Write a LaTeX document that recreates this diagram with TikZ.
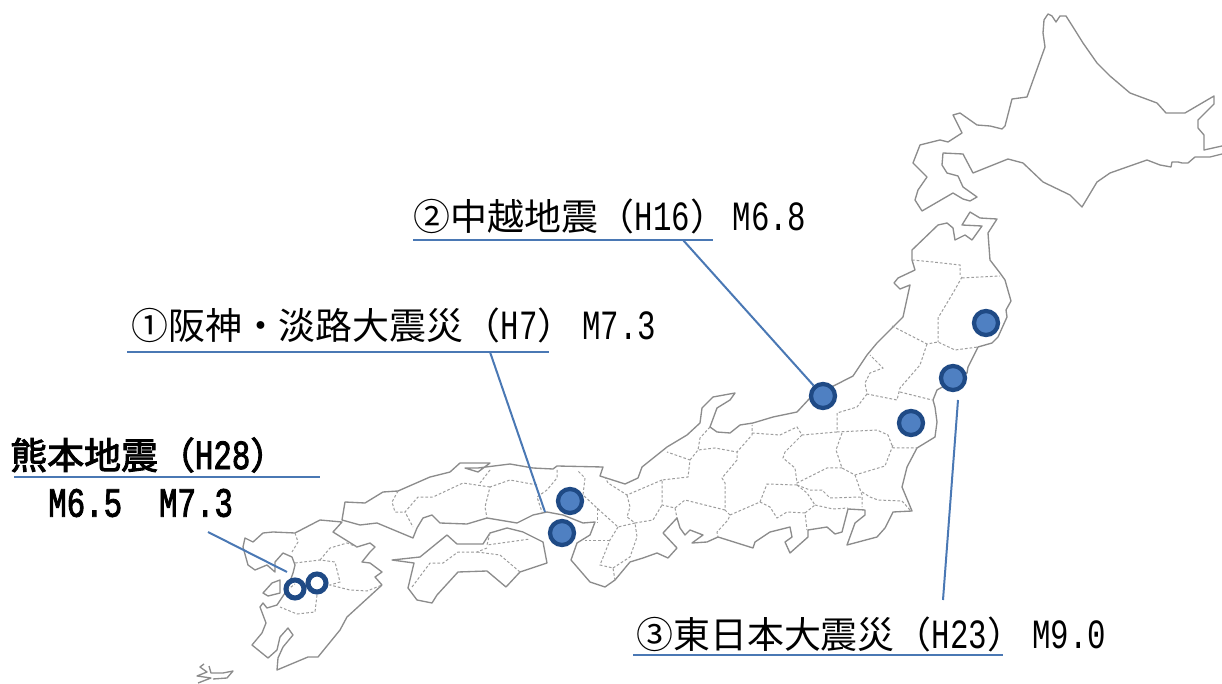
\documentclass[tikz,border=0pt]{standalone}
\usepackage{fontspec}
\setmainfont{Noto Sans CJK JP}
\newfontfamily\jpsemi[FakeBold=2.5]{Noto Sans CJK JP}
\newfontfamily\latfont[FakeStretch=0.74]{Liberation Mono}
\newfontfamily\latbold[FakeStretch=0.74,FakeBold=2]{Liberation Mono}
\newcommand{\lt}[1]{{\fontsize{31.2pt}{30pt}\latfont #1}}
\newcommand{\lb}[1]{{\fontsize{31.2pt}{30pt}\latbold #1}}
\definecolor{mapline}{HTML}{8C8C8C}
\definecolor{leader}{HTML}{4A78B4}
\definecolor{dotfill}{HTML}{4F80C2}
\definecolor{dotring}{HTML}{1F4A85}
\tikzset{
  coast/.style={draw=mapline,line width=1pt,line join=round},
  pref/.style={draw=mapline!85,line width=0.75pt,dash pattern=on 2pt off 1.5pt},
  leaderline/.style={draw=leader,line width=1.5pt},
  quake/.style={circle,draw=dotring,fill=dotfill,line width=3.2pt,minimum size=18pt,inner sep=0pt},
  quakering/.style={circle,draw=dotring,line width=3.8pt,minimum size=13.5pt,inner sep=0pt},
  label/.style={anchor=west,inner sep=0pt,font=\fontsize{27.7pt}{30pt}\selectfont,text=black}
}
\begin{document}
\begin{tikzpicture}[x=0.75pt,y=-0.75pt]
\useasboundingbox (0,0) rectangle (1222,684);
% Hokkaido
\draw[coast] (1045,47)--(1043,33)--(1044,20)--(1048,14)--(1052,16)--(1056,22)--(1060,16)--(1066,16)--(1073,27)--(1083,43)--(1097,63)--(1110,76)--(1130,93)--(1157,103)--(1166,113)--(1185,113)--(1214,96)--(1214,104)--(1198,120)--(1198,128)--(1204,135)--(1204,150)--(1222,146);
\draw[coast] (1222,154)--(1210,157)--(1195,157)--(1188,163)--(1182,163)--(1178,162)--(1172,162)--(1171,167)--(1160,165)--(1147,160)--(1127,167)--(1110,173)--(1097,182)--(1082,207)--(1070,195)--(1043,182)--(1023,163)--(1008,159)--(973,173)--(963,154)--(943,153)--(942,165)--(947,173)--(958,176)--(963,187)--(977,197)--(970,201)--(963,199)--(953,193)--(922,211)--(915,200)--(918,190)--(927,177)--(913,163)--(920,145)--(940,140)--(948,142)--(962,133)--(953,115)--(960,113)--(977,125)--(990,126)--(1002,129)--(1005,126)--(1012,99)--(1027,97)--(1045,47);
% Honshu
\draw[coast,fill=white] (912,250)--(938,225)--(947,223)--(953,228)--(955,240)--(965,235)--(972,240)--(982,226)--(962,225)--(970,212)--(980,218)--(997,219)--(988,233)--(990,260)--(1000,273)--(1005,280)--(1011,301)--(1006,310)--(1007,317)--(998,337)--(992,343)--(978,347)--(968,367)--(967,373)--(937,390)--(933,400)--(935,407)--(937,422)--(935,437)--(917,448)--(907,467)--(902,487)--(912,511)--(893,512)--(885,528)--(877,537)--(847,545)--(855,523)--(865,515)--(865,510)--(848,509)--(842,532)--(835,534)--(827,527)--(808,530)--(808,537)--(790,553)--(785,542)--(792,537)--(790,527)--(770,532)--(755,542)--(753,548)--(718,537)--(707,542)--(692,543)--(703,535)--(690,530)--(685,535)--(680,528)--(677,518)--(663,533)--(677,548)--(668,558)--(657,553)--(643,558)--(630,562)--(615,580)--(605,587)--(590,582)--(571,560)--(577,543)--(590,535)--(595,522)--(583,523)--(563,515)--(547,512)--(533,515)--(517,523)--(487,518)--(467,524)--(440,523)--(432,515)--(423,518)--(417,528)--(413,538)--(377,523)--(360,525)--(342,520)--(345,502)--(365,503)--(383,492)--(398,491)--(430,477)--(450,472)--(460,463)--(490,463)--(478,472)--(465,468)--(478,468)--(510,464)--(533,468)--(553,469)--(557,466)--(603,467)--(600,476)--(625,484)--(638,478)--(642,467)--(667,447)--(687,435)--(700,423)--(702,408)--(713,397)--(735,393)--(730,400)--(717,408)--(710,427)--(717,432)--(730,433)--(740,425)--(753,423)--(773,417)--(797,412)--(810,398)--(853,376)--(867,355)--(877,343)--(888,332)--(903,317)--(910,285)--(900,289)--(894,283)--(898,278)--(915,270)--(912,260)--cycle;
% Shikoku
\draw[coast] (392,560)--(420,557)--(447,535)--(457,544)--(483,544)--(490,533)--(507,528)--(523,532)--(543,542)--(547,563)--(520,572)--(506,587)--(487,571)--(458,572)--(437,595)--(432,603)--(417,600)--(408,588)--(414,563)--cycle;
% Kyushu
\draw[coast] (342,522)--(320,520)--(295,533)--(273,532)--(263,533)--(253,542)--(245,538)--(243,547)--(248,565)--(255,570)--(267,565)--(275,572)--(275,562)--(283,553)--(292,557)--(295,565)--(293,573)--(287,590)--(277,605)--(267,608)--(263,603)--(260,607)--(266,623)--(262,633)--(252,645)--(268,658)--(277,650)--(280,637)--(288,628)--(293,635)--(283,647)--(278,658)--(277,670)--(308,657)--(318,657)--(340,630)--(347,617)--(382,585)--(375,577)--(382,572)--(370,563)--(362,562)--(370,552)--(375,547)--(370,543)--(357,547)--(333,532)--cycle;
\draw[coast] (263,593)--(272,583)--(280,580)--(280,593)--(268,596)--cycle;
% small island
\draw[coast] (204,664)--(200,667)--(207,672)--(197,676)--(211,678)--(198,683);
\draw[coast] (209,666)--(211,673)--(223,673)--(233,671)--(227,678)--(213,679);
% prefecture borders: Tohoku
\draw[pref] (912,260)--(933,262)--(960,265)--(960,275);
\draw[pref] (962,277)--(953,293)--(938,318)--(938,342);
\draw[pref] (962,278)--(1000,276);
\draw[pref] (892,326)--(927,344)--(938,342)--(955,350)--(978,347);
\draw[pref] (927,344)--(920,365)--(900,388)--(897,400)--(867,394)--(865,383)--(870,373)--(883,368)--(870,355);
\draw[pref] (900,392)--(932,400);
\draw[pref] (867,394)--(857,407)--(837,413)--(837,432);
% Chubu / Kanto
\draw[pref] (710,427)--(700,438)--(698,450)--(715,448)--(737,452)--(752,435)--(752,425);
\draw[pref] (752,433)--(780,435)--(797,427)--(802,435)--(837,432);
\draw[pref] (837,432)--(877,430)--(888,435)--(893,448)--(917,448);
\draw[pref] (842,433)--(836,450)--(842,468)--(855,475)--(885,466)--(893,445);
\draw[pref] (802,435)--(785,452)--(783,458)--(795,468)--(797,483)--(827,468)--(842,468);
\draw[pref] (855,475)--(862,495)--(862,507);
\draw[pref] (862,492)--(870,497)--(878,500)--(902,501)--(910,510);
\draw[pref] (797,485)--(810,490)--(822,490)--(830,498)--(861,497);
\draw[pref] (797,485)--(767,484)--(760,502);
\draw[pref] (797,485)--(807,493)--(815,505)--(805,513)--(807,530);
\draw[pref] (815,505)--(833,509)--(848,508);
\draw[pref] (805,513)--(787,512)--(777,518)--(770,507)--(760,502)--(730,515)--(728,520)--(717,532)--(718,537);
\draw[pref] (730,515)--(725,510)--(725,483)--(722,478)--(737,460)--(737,452);
% Kinki
\draw[pref] (725,510)--(685,500)--(675,508)--(662,505)--(662,480)--(688,477)--(690,460)--(667,452);
\draw[pref] (690,460)--(698,450);
\draw[pref] (662,480)--(627,495)--(608,483)--(605,477);
\draw[pref] (627,495)--(630,507)--(627,517)--(635,523)--(653,520)--(662,505);
\draw[pref] (675,508)--(677,518);
\draw[pref] (635,523)--(618,527)--(597,508)--(583,495)--(585,478)--(577,470);
\draw[pref] (618,527)--(610,540)--(600,565)--(613,568)--(615,580);
\draw[pref] (613,568)--(630,557)--(637,537)--(635,523);
\draw[pref] (597,508)--(597,523);
\draw[pref] (610,540)--(585,540);
% Chugoku
\draw[pref] (557,470)--(557,478)--(547,490)--(537,497)--(542,512);
\draw[pref] (537,485)--(510,480)--(490,487)--(485,507)--(487,518);
\draw[pref] (490,487)--(463,483)--(433,497)--(418,497)--(405,512)--(413,527);
\draw[pref] (490,470)--(480,483);
\draw[pref] (398,491)--(392,502)--(395,512)--(405,512);
% Shikoku borders
\draw[pref] (490,533)--(487,545)--(530,539);
\draw[pref] (487,548)--(477,552)--(458,552)--(443,563)--(430,563)--(412,587);
\draw[pref] (477,552)--(500,555)--(520,572);
% Kyushu borders
\draw[pref] (295,533)--(298,542)--(292,552);
\draw[pref] (295,563)--(320,560)--(335,562)--(340,582)--(330,585)--(350,590)--(367,591)--(382,585);
\draw[pref] (320,560)--(330,548)--(347,543)--(357,547);
\draw[pref] (317,595)--(315,612)--(297,614)--(280,607);
\draw[pref] (287,590)--(295,584);
% leader endpoints
\coordinate (hanshinEnd) at (545,512);
\coordinate (kumaEnd) at (287,572);
\coordinate (tohokuEnd) at (958,400);
\coordinate (ul2a) at (413,240); \coordinate (ul2b) at (713,240); \coordinate (ul2c) at (683,240);
\coordinate (ul1a) at (127,352); \coordinate (ul1b) at (549,352); \coordinate (ul1c) at (490,352);
\coordinate (ulka) at (14,477);  \coordinate (ulkb) at (320,477); \coordinate (ulkc) at (208,532);
\coordinate (ul3a) at (633,655); \coordinate (ul3b) at (1003,655); \coordinate (ul3c) at (943,600);
% epicentres
\node[quake] (d1) at (986,323) {};
\node[quake] (d2) at (953,378) {};
\node[quake] (d3) at (911,423) {};
\node[quake] (d4) at (823,396) {};
\node[quake] (d5) at (570,501) {};
\node[quake] (d6) at (562,533) {};
\node[quakering] (r1) at (295,589) {};
\node[quakering] (r2) at (317,583) {};
% leaders
\draw[leaderline] (ul2a)--(ul2b);
\draw[leaderline] (ul2c)--(d4);
\draw[leaderline] (ul1a)--(ul1b);
\draw[leaderline] (ul1c)--(hanshinEnd);
\draw[leaderline] (ulka)--(ulkb);
\draw[leaderline] (ulkc)--(kumaEnd);
\draw[leaderline] (ul3a)--(ul3b);
\draw[leaderline] (ul3c)--(tohokuEnd);
% labels
\node[label] (t2) at (413,216) {②中越地震（\lt{H16}）\hspace{4pt}\lt{M6.8}};
\node[label] (t1) at (131,325) {①阪神・淡路大震災（\lt{H7}）\hspace{6pt}\lt{M7.3}};
\node[label] (t3) at (636,634) {③東日本大震災（\lt{H23}）\hspace{6pt}\lt{M9.0}};
\node[label] (tk) at (10,455) {\jpsemi 熊本地震（\lb{H28}）};
\node[label] (tm) at (48,503) {\lb{M6.5\hspace{27.7pt}M7.3}};
\end{tikzpicture}
\end{document}
